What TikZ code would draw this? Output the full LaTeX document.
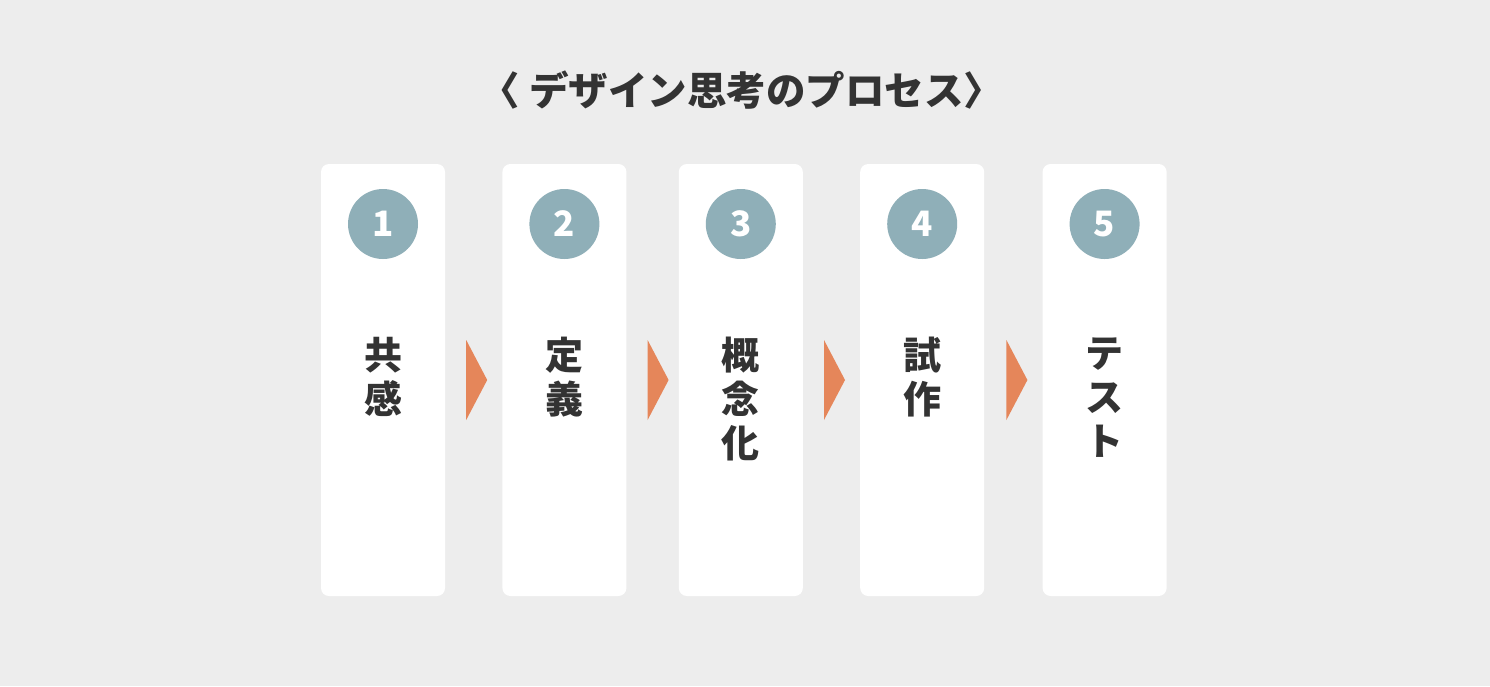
\documentclass[tikz,border=0pt]{standalone}
\usepackage{fontspec}
\newfontfamily\jpfont{Noto Sans CJK JP}
\usetikzlibrary{calc, positioning}
\tikzset{
    cardnode/.style = {draw=none, fill=white, rectangle, rounded corners=8pt, inner sep=0pt, 
      minimum width=124pt, minimum height=432pt},
    numnode/.style = {circle, fill=stepc, inner sep=0pt, minimum size=70pt, text=white, 
      font=\jpfont\bfseries\fontsize{35}{35}\selectfont},
    wordnode/.style = {draw=none, fill=none, rectangle, inner sep=0pt, text=txtc, 
      font=\jpfont\bfseries\fontsize{38}{44}\selectfont},
    titlenode/.style = {draw=none, fill=none, inner sep=0pt, text=txtc, 
      font=\jpfont\bfseries\fontsize{39.5}{40}\selectfont},
    arrownode/.style = {fill=arrc, draw=none},
    every text node part/.style={align=center}
}
\definecolor{bgc}{RGB}{237, 237, 237}
\definecolor{stepc}{RGB}{143, 175, 184}
\definecolor{arrc}{RGB}{229, 134, 90}
\definecolor{txtc}{RGB}{51, 51, 51}

\begin{document}
\begin{tikzpicture}[x=1pt, y=-1pt]
\fill [bgc] (0,0) rectangle (1490,686);

\node [titlenode, name=title] at (742,90) {〈 デザイン思考のプロセス〉};

\node [cardnode, name=card1] at (383,380) {};
\node [numnode, name=n1, below=25pt of card1.north] {1};
\node [wordnode, name=w1, below=78pt of n1] {共\\感};

\node [cardnode, name=card2, right=57pt of card1] {};
\node [numnode, name=n2, below=25pt of card2.north] {2};
\node [wordnode, name=w2, below=78pt of n2] {定\\義};

\node [cardnode, name=card3, right=52pt of card2] {};
\node [numnode, name=n3, below=25pt of card3.north] {3};
\node [wordnode, name=w3, below=78pt of n3] {概\\念\\化};

\node [cardnode, name=card4, right=57pt of card3] {};
\node [numnode, name=n4, below=25pt of card4.north] {4};
\node [wordnode, name=w4, below=78pt of n4] {試\\作};

\node [cardnode, name=card5, right=58pt of card4] {};
\node [numnode, name=n5, below=25pt of card5.north] {5};
\node [wordnode, name=w5, below=78pt of n5] {テ\\ス\\ト};

% arrows between the cards
\fill [arrownode] ($(card1.east)+(21,-40)$) -- ($(card1.east)+(42,0)$) -- ($(card1.east)+(21,40)$) -- cycle;
\fill [arrownode] ($(card2.east)+(21,-40)$) -- ($(card2.east)+(42,0)$) -- ($(card2.east)+(21,40)$) -- cycle;
\fill [arrownode] ($(card3.east)+(21,-40)$) -- ($(card3.east)+(42,0)$) -- ($(card3.east)+(21,40)$) -- cycle;
\fill [arrownode] ($(card4.east)+(22,-40)$) -- ($(card4.east)+(43,0)$) -- ($(card4.east)+(22,40)$) -- cycle;
\end{tikzpicture}
\end{document}
